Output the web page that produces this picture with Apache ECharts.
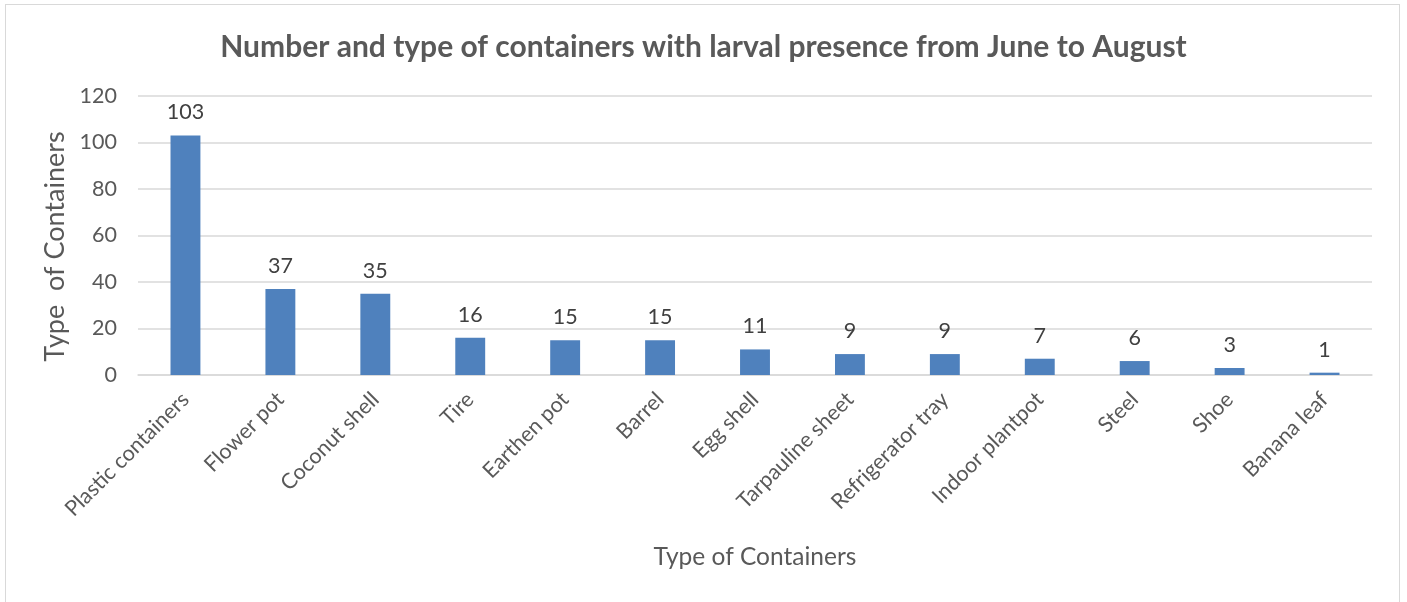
<!DOCTYPE html>
<html>
<head>
<meta charset="utf-8">
<script src="https://cdn.jsdelivr.net/npm/echarts@6/dist/echarts.min.js"></script>
<style>
html,body{margin:0;padding:0;background:#fff;}
#frame{position:absolute;left:5px;top:4px;width:1395px;height:600px;border:1px solid #d9d9d9;box-sizing:border-box;}
#chart{position:absolute;left:0;top:0;width:1407px;height:602px;}
</style>
</head>
<body>
<div id="frame"></div>
<div id="chart"></div>
<script>
const categories = ["Plastic containers","Flower pot","Coconut shell","Tire","Earthen pot","Barrel","Egg shell","Tarpauline sheet","Refrigerator tray","Indoor plantpot","Steel","Shoe","Banana leaf"];
const values = [103,37,35,16,15,15,11,9,9,7,6,3,1];
const yTicks = {min:0,max:120,interval:20};
const titleText = "Number and type of containers with larval presence from June to August";
const xName = "Type of Containers";
const yName = "Type  of Containers";

const font = "Lato, 'Open Sans', sans-serif";
const chart = echarts.init(document.getElementById('chart'));
chart.setOption({
  backgroundColor:'transparent',
  animation:false,
  title:{text:titleText,left:'center',top:27,textStyle:{fontFamily:font,fontSize:30,fontWeight:'bold',color:'#595959'}},
  grid:{left:138,right:35,top:96,bottom:227,containLabel:false},
  xAxis:{
    type:'category',data:categories,
    name:xName,nameLocation:'middle',nameGap:170,
    nameTextStyle:{fontFamily:font,fontSize:24.5,color:'#595959'},
    axisLine:{lineStyle:{color:'#d9d9d9',width:1.5}},
    axisTick:{show:false},
    axisLabel:{rotate:45,interval:0,margin:21,fontFamily:font,fontSize:21.5,color:'#595959'}
  },
  yAxis:{
    type:'value',min:yTicks.min,max:yTicks.max,interval:yTicks.interval,
    name:yName,nameLocation:'middle',nameGap:61,
    nameTextStyle:{fontFamily:font,fontSize:27,color:'#595959',padding:[0,22,0,0]},
    axisLine:{show:false},axisTick:{show:false},
    axisLabel:{margin:21,fontFamily:font,fontSize:21.5,color:'#595959'},
    splitLine:{lineStyle:{color:'#d9d9d9',width:1.5}}
  },
  series:[{
    type:'bar',data:values,barWidth:'31.5%',
    itemStyle:{color:'#4f81bd'},
    label:{show:true,position:'top',distance:12,fontFamily:font,fontSize:21.5,color:'#404040'}
  }]
});
</script>
</body>
</html>
